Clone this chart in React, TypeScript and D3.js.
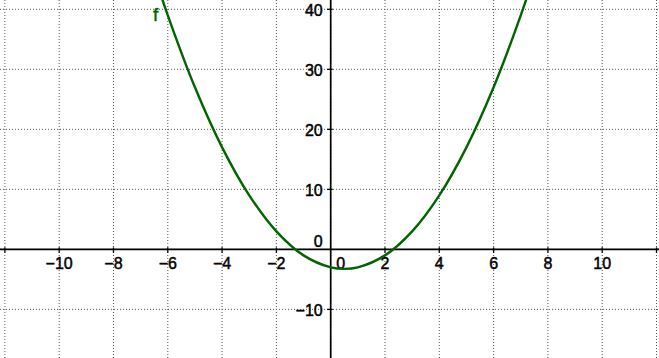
import React from "react";
import * as d3 from "d3";

const W = 659;
const H = 358;

const curveX = [-6.5, -6, -5, -4, -3, -2, -1, 0, 0.5, 1, 2, 3, 4, 5, 6, 7, 7.5];
const curveY = [45.75, 39, 27, 17, 9, 3, -1, -3, -3.25, -3, -1, 3, 9, 17, 27, 39, 45.75];

const xGrid = [-12, -10, -8, -6, -4, -2, 0, 2, 4, 6, 8, 10, 12];
const xTickLabels = [-10, -8, -6, -4, -2, 2, 4, 6, 8, 10];
const yGrid = [-10, 0, 10, 20, 30, 40];
const yTickLabels = [-10, 10, 20, 30, 40];

const fmt = (v: number) => (v < 0 ? "\u2212" + Math.abs(v) : String(v));

export default function App() {
  const x = d3.scaleLinear().domain([-12.18, 12.092]).range([0, W]);
  const y = d3.scaleLinear().domain([41.55, -18.1]).range([0, H]);
  const pts: [number, number][] = curveX.map((v, i) => [v, curveY[i]]);
  const line = d3
    .line<[number, number]>()
    .x((d) => x(d[0]))
    .y((d) => y(d[1]))
    .curve(d3.curveCatmullRom.alpha(0.5));
  const x0 = x(0);
  const y0 = y(0);
  const font = "Liberation Sans, Arial, sans-serif";
  const fs = 16;
  const textProps = {
    fontFamily: font,
    fontSize: fs,
    fill: "#000",
    stroke: "#000",
    strokeWidth: 0.45,
  };
  return (
    <svg
      width={W}
      height={H}
      style={{ position: "absolute", left: 0, top: 0, background: "#fff" }}
    >
      <defs>
        <clipPath id="clip">
          <rect x={0} y={0} width={W} height={H} />
        </clipPath>
      </defs>
      <rect x={0} y={0} width={W} height={H} fill="#fff" />
      {xGrid.map((v) => (
        <line
          key={"gx" + v}
          x1={x(v)}
          x2={x(v)}
          y1={0}
          y2={H}
          stroke="#555"
          strokeWidth={1}
          strokeDasharray="1,2"
        />
      ))}
      {yGrid.map((v) => (
        <line
          key={"gy" + v}
          x1={0}
          x2={W}
          y1={y(v)}
          y2={y(v)}
          stroke="#555"
          strokeWidth={1}
          strokeDasharray="1,2"
        />
      ))}
      {/* axes */}
      <line x1={0} x2={W} y1={y0} y2={y0} stroke="#000" strokeWidth={1.7} />
      <line x1={x0} x2={x0} y1={0} y2={H} stroke="#000" strokeWidth={1.7} />
      {xGrid
        .filter((v) => v !== 0)
        .map((v) => (
          <line
            key={"tx" + v}
            x1={x(v)}
            x2={x(v)}
            y1={y0 - 2}
            y2={y0 + 3.5}
            stroke="#000"
            strokeWidth={1.3}
          />
        ))}
      {yGrid
        .filter((v) => v !== 0)
        .map((v) => (
          <line
            key={"ty" + v}
            x1={x0 - 3.5}
            x2={x0 + 2}
            y1={y(v)}
            y2={y(v)}
            stroke="#000"
            strokeWidth={1.3}
          />
        ))}
      {xTickLabels.map((v) => (
        <text key={"lx" + v} x={x(v)} y={y0 + 20} textAnchor="middle" {...textProps}>
          {fmt(v)}
        </text>
      ))}
      <text x={x0 + 10} y={y0 + 20} textAnchor="middle" {...textProps}>
        0
      </text>
      {yTickLabels.map((v) => (
        <text key={"ly" + v} x={x0 - 8} y={y(v) + 7} textAnchor="end" {...textProps}>
          {fmt(v)}
        </text>
      ))}
      <text x={x0 - 8} y={y0 - 2.5} textAnchor="end" {...textProps}>
        0
      </text>
      <path
        d={line(pts) || ""}
        fill="none"
        stroke="#006400"
        strokeWidth={2.4}
        clipPath="url(#clip)"
      />
      <text
        x={153}
        y={21}
        fontFamily={font}
        fontSize={19}
        fill="#006400"
        stroke="#006400"
        strokeWidth={0.4}
      >
        f
      </text>
    </svg>
  );
}
